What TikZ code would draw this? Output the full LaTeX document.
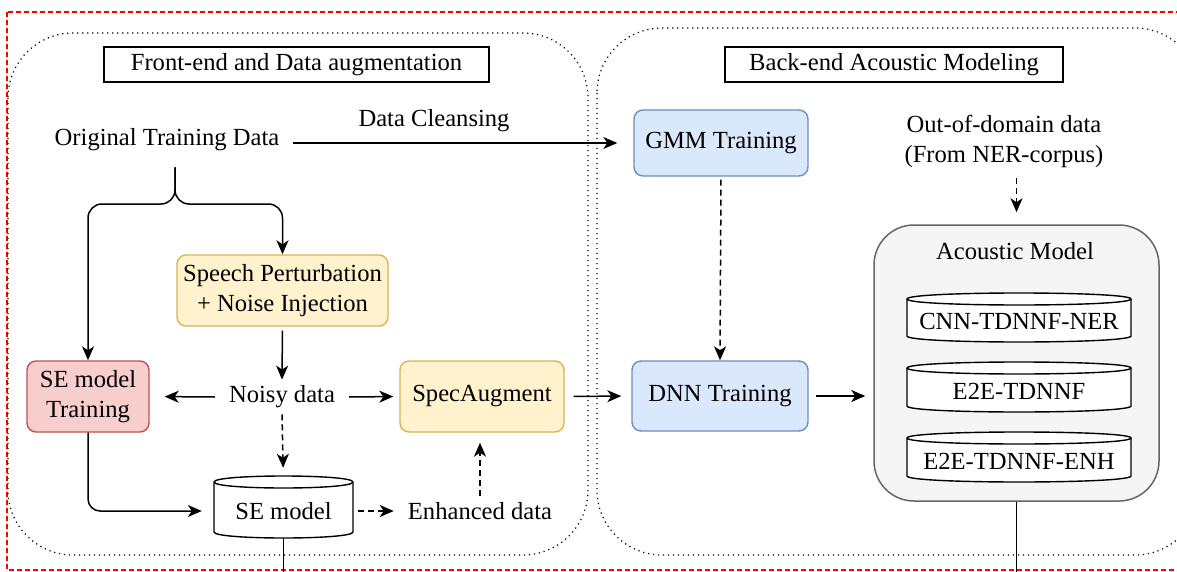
\documentclass[tikz,border=0pt]{standalone}
\usepackage{fontspec}
\setmainfont{Liberation Serif}
\usetikzlibrary{arrows.meta,calc}

\def\pageFrame{(7,12) rectangle (1200,570)}
\def\frontFrame{(8,33) rectangle (588,555)}
\def\backFrame{(597,28) rectangle (1200,555)}
\definecolor{blue fill}{HTML}{DAE8FC}
\definecolor{blue edge}{HTML}{6C8EBF}
\definecolor{yellow fill}{HTML}{FFF2CC}
\definecolor{yellow edge}{HTML}{D6B656}
\definecolor{red fill}{HTML}{F8CECC}
\definecolor{red edge}{HTML}{B85450}
\definecolor{gray fill}{HTML}{F5F5F5}
\definecolor{gray edge}{HTML}{666666}
\definecolor{page edge}{HTML}{FF0000}
\tikzset{
  stage/.style={draw, rounded corners=9pt, line width=1.4pt, align=center, inner sep=4pt},
  bluebox/.style={stage, fill=blue fill, draw=blue edge},
  yellowbox/.style={stage, fill=yellow fill, draw=yellow edge},
  redbox/.style={stage, fill=red fill, draw=red edge},
  heading/.style={draw, line width=1.5pt, minimum height=35pt, inner sep=0pt},
  plain/.style={inner xsep=14pt, inner ysep=6pt, align=center},
  flow/.style={draw, line width=1.5pt, -{Stealth[length=14pt,width=12pt,inset=4pt]}},
  dflow/.style={flow, dash pattern=on 6pt off 4pt}
  }
\tikzstyle{frame} = [draw, line width=1.2pt, dash pattern=on 1.2pt off 3.8pt, rounded corners=65pt]
\tikzstyle{dbshape}=[draw, fill=white, line width=1.4pt]

\begin{document}
\begin{tikzpicture}[x=1pt, y=-1pt, font=\fontsize{24.6}{30}\selectfont]
  \useasboundingbox (0,0) rectangle (1177,572);
  \clip (0,0) rectangle (1177,572);

  \draw[page edge, line width=1.4pt, dash pattern=on 5pt off 3pt] \pageFrame;
  \draw[frame] \frontFrame;
  \draw[frame] \backFrame;

  \node[heading, minimum width=385pt] (fronttitle) at (296.5,64.5) {Front-end and Data augmentation};
  \node[heading, minimum width=338pt] (backtitle) at (894,64.5) {Back-end Acoustic Modeling};

  % acoustic model and its stores
  \node[draw=gray edge, fill=gray fill, line width=1.5pt, rounded corners=40pt,
        minimum width=285pt, minimum height=276pt] (acoustic) at (1016.5,363) {};
  \node (amtitle) at (1015,251) {Acoustic Model};
  \foreach \nm/\cx/\cy/\hw/\hh/\txt in {semodel/283.5/507/69.5/31/SE model,
      cnnner/1019/317.5/112/24.5/CNN-TDNNF-NER, etdnnf/1019/387/112/25/E2E-TDNNF,
      etdnnfenh/1019/457/112/25/E2E-TDNNF-ENH} {
    \draw[dbshape] (\cx-\hw,\cy-\hh+6) -- (\cx-\hw,\cy+\hh-6)
      .. controls (\cx-\hw,\cy+\hh+2) and (\cx+\hw,\cy+\hh+2) .. (\cx+\hw,\cy+\hh-6)
      -- (\cx+\hw,\cy-\hh+6)
      .. controls (\cx+\hw,\cy-\hh-2) and (\cx-\hw,\cy-\hh-2) .. (\cx-\hw,\cy-\hh+6) -- cycle;
    \draw[dbshape, fill=none] (\cx-\hw,\cy-\hh+6)
      .. controls (\cx-\hw,\cy-\hh+14) and (\cx+\hw,\cy-\hh+14) .. (\cx+\hw,\cy-\hh+6);
    \node[inner sep=0pt, minimum width=2*\hw, minimum height=2*\hh-8] (\nm) at (\cx,\cy+4) {\txt};
  }

  % front-end
  \node[plain] (orig) at (167,140) {Original Training Data};
  \node[plain] (cleansing) at (434,121) {Data Cleansing};
  \node[yellowbox, minimum width=211pt, minimum height=71pt] (speech) at (282.5,290.5) {Speech Perturbation\\+ Noise Injection};
  \node[redbox, minimum width=122pt, minimum height=71pt] (setrain) at (88,396.5) {SE model\\Training};
  \node[plain] (noisy) at (282,397) {Noisy data};
  \node[yellowbox, minimum width=164pt, minimum height=71pt] (specaug) at (482,396.5) {SpecAugment};
  \node[plain] (enhanced) at (480,511) {Enhanced data};

  % back-end
  \node[bluebox, minimum width=174pt, minimum height=66pt] (gmm) at (721,143) {GMM Training};
  \node[bluebox, minimum width=176pt, minimum height=70pt] (dnn) at (720,396) {DNN Training};
  \node[plain] (ood) at (1004,141) {Out-of-domain data\\(From NER-corpus)};

  \coordinate (split) at (175,204);
  \coordinate (bottomedge) at (0,590);

  \draw[flow, rounded corners=14pt] ([yshift=-10pt]split |- orig.south) -- (split) -| (setrain.north);
  \draw[flow, rounded corners=14pt] ([yshift=-10pt]split |- orig.south) -- (split) -| (speech.north);
  \draw[flow, shorten >=16pt] (orig.east |- gmm.west) -- (gmm.west);
  \draw[flow, shorten <=4pt] (speech.south) -- (noisy.north);
  \draw[flow, shorten >=15pt] (noisy.west) -- (setrain.east);
  \draw[flow, shorten >=6pt] (noisy.east) -- (specaug.west);
  \draw[dflow, shorten >=16pt] (noisy.south) -- (semodel.north);
  \draw[flow, rounded corners=12pt, shorten >=12pt] (setrain.south) |- (semodel.west);
  \draw[dflow, shorten <=5pt] (semodel.east) -- (enhanced.west);
  \draw[dflow, shorten >=10pt] (enhanced.north) -- (enhanced.north |- specaug.south);
  \draw[flow, shorten <=9pt, shorten >=10pt] (specaug.east) -- (dnn.west);
  \draw[dflow, shorten <=3pt] (gmm.south) -- (dnn.north);
  \draw[flow, shorten <=7pt, shorten >=8pt] (dnn.east) -- (dnn.east -| acoustic.west);
  \draw[dflow, shorten <=5pt, shorten >=12pt] (ood.south -| acoustic.north) -- (acoustic.north);
  \draw[line width=1.5pt] (semodel.south) -- (semodel.south |- bottomedge);
  \draw[line width=1.5pt] (acoustic.south) -- (acoustic.south |- bottomedge);

\end{tikzpicture}
\end{document}
